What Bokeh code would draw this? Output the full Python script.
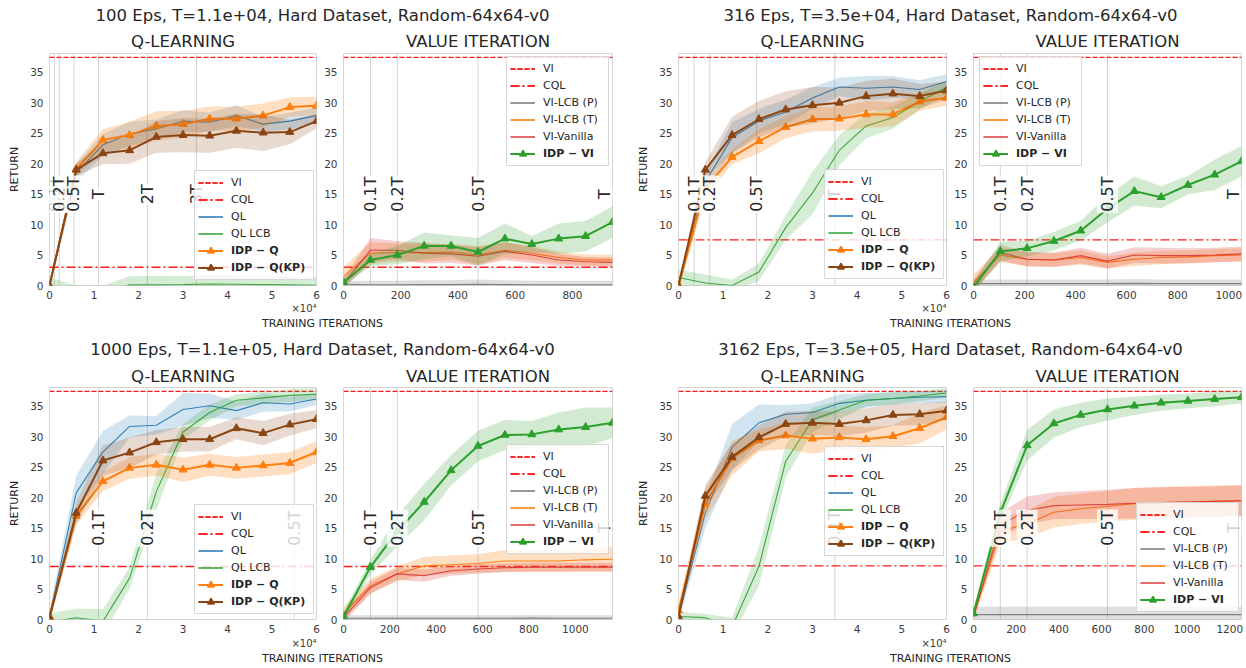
import math
from bokeh.plotting import figure
from bokeh.models import Range1d, Label, Span, Legend, LegendItem, FixedTicker
from bokeh.layouts import row, column
from bokeh.embed import file_html
from bokeh.resources import INLINE

FONT = "DejaVu Sans"

# ---------------- data ----------------
YMAX = 38.1
VI_OPT = 37.45
y_ticks = [0, 5, 10, 15, 20, 25, 30, 35]
q_x = [0, 6000, 12000, 18000, 24000, 30000, 36000, 42000, 48000, 54000, 60000]
q_ticks = [0, 10000, 20000, 30000, 40000, 50000, 60000]
q_tick_labels = ["0", "1", "2", "3", "4", "5", "6"]
vi_ticks = [0, 200, 400, 600, 800, 1000, 1200]
t_mults = [0.1, 0.2, 0.5, 1, 2, 3]
t_names = ["0.1T", "0.2T", "0.5T", "T", "2T", "3T"]

titles = ["100 Eps, T=1.1e+04, Hard Dataset, Random-64x64-v0",
          "316 Eps, T=3.5e+04, Hard Dataset, Random-64x64-v0",
          "1000 Eps, T=1.1e+05, Hard Dataset, Random-64x64-v0",
          "3162 Eps, T=3.5e+05, Hard Dataset, Random-64x64-v0"]
T_q = [1.1e4, 3.5e4, 1.1e5, 3.5e5]
cql_vals = [3.0, 7.5, 8.7, 8.8]

# 100 Eps
ql_100 = [0.0, 18.5, 23.1, 24.9, 25.7, 27.0, 26.8, 27.9, 26.5, 27.0, 27.9]
ql_100_sd = [0.6, 1.5, 1.8, 2.0, 1.6, 1.8, 1.6, 1.7, 1.2, 1.4, 1.3]
qlcb_100 = [0.0, -1.4, -1.5, 0.1, 0.1, 0.15, 0.25, 0.2, 0.15, 0.1, 0.05]
qlcb_100_sd = [1.3, 1.4, 1.5, 1.4, 1.5, 1.4, 1.4, 1.4, 1.4, 1.4, 1.4]
idpq_100 = [0.0, 19.1, 23.9, 24.7, 26.2, 26.5, 27.4, 27.4, 27.9, 29.3, 29.5]
idpq_100_sd = [0.5, 1.2, 1.8, 2.2, 2.4, 2.2, 2.0, 2.0, 2.0, 1.6, 1.5]
idpqkp_100 = [0.0, 19.0, 21.7, 22.2, 24.4, 24.7, 24.6, 25.4, 25.1, 25.2, 27.0]
idpqkp_100_sd = [0.5, 1.0, 1.8, 2.2, 2.6, 2.8, 2.8, 2.8, 3.0, 2.0, 1.2]
vi_x_100 = [0, 94, 188, 282, 376, 470, 564, 658, 752, 846, 940]
idpvi_100 = [0.5, 4.2, 5.0, 6.5, 6.5, 5.5, 7.7, 6.8, 7.7, 8.1, 10.4]
idpvi_100_sd = [0.7, 1.0, 1.5, 2.2, 1.7, 2.3, 2.5, 1.3, 2.5, 2.5, 2.6]
vivan_100 = [0.3, 5.8, 5.8, 5.3, 5.2, 4.8, 5.6, 5.0, 4.2, 3.9, 3.8]
vivan_100_sd = [0.8, 2.0, 1.5, 1.7, 1.5, 1.5, 1.5, 1.3, 1.0, 0.8, 0.8]
vilcbt_100 = [1.5, 5.3, 5.4, 5.4, 5.5, 5.0, 5.8, 5.3, 4.6, 4.2, 4.2]
vilcbt_100_sd = [1.5, 1.8, 1.5, 1.5, 1.3, 1.5, 1.3, 1.2, 1.0, 0.9, 0.9]
vilcbp_100 = [0.2, 0.1, 0.1, 0.15, 0.15, 0.2, 0.15, 0.1, 0.1, 0.1, 0.1]
vilcbp_100_sd = [0.6, 0.7, 0.7, 0.7, 0.7, 0.8, 0.7, 0.7, 0.7, 0.7, 0.7]

# 316 Eps
ql_316 = [0.0, 17.0, 24.3, 27.0, 28.5, 30.8, 32.6, 32.4, 32.6, 32.2, 33.5]
ql_316_sd = [0.5, 1.5, 2.5, 2.0, 2.0, 1.8, 1.5, 2.0, 1.8, 1.5, 1.2]
qlcb_316 = [1.3, 0.4, 0.0, 2.2, 9.5, 15.2, 22.2, 26.2, 27.6, 30.2, 32.5]
qlcb_316_sd = [1.3, 1.4, 1.0, 1.4, 2.0, 3.5, 2.5, 2.0, 1.8, 1.3, 1.2]
idpq_316 = [0.0, 16.0, 21.1, 23.7, 26.0, 27.3, 27.4, 28.1, 28.1, 30.2, 30.8]
idpq_316_sd = [0.8, 1.5, 1.2, 2.0, 1.8, 2.0, 2.0, 2.2, 2.0, 1.5, 1.3]
idpqkp_316 = [0.0, 19.0, 24.7, 27.3, 28.9, 29.6, 30.0, 31.1, 31.5, 31.1, 32.0]
idpqkp_316_sd = [0.8, 1.3, 3.0, 3.0, 3.0, 3.0, 2.5, 2.5, 2.5, 2.0, 1.5]
vi_x_316 = [0, 105, 210, 315, 420, 525, 630, 735, 840, 945, 1050]
idpvi_316 = [-0.3, 5.6, 6.1, 7.3, 9.0, 12.6, 15.5, 14.5, 16.5, 18.2, 20.4]
idpvi_316_sd = [0.8, 1.6, 1.3, 1.5, 1.6, 2.2, 2.4, 1.8, 1.5, 2.5, 2.5]
vivan_316 = [0.0, 5.4, 4.3, 4.2, 4.9, 4.0, 5.0, 4.9, 4.9, 5.0, 5.2]
vivan_316_sd = [1.0, 1.3, 1.2, 1.2, 1.3, 1.2, 1.3, 1.3, 1.2, 1.2, 1.2]
vilcbt_316 = [0.5, 5.0, 4.3, 4.2, 4.6, 3.8, 4.3, 4.6, 4.7, 4.9, 5.0]
vilcbt_316_sd = [1.3, 1.2, 1.1, 1.1, 1.2, 1.0, 1.1, 1.1, 1.1, 1.1, 1.1]
vilcbp_316 = [0.3, 0.3, 0.3, 0.3, 0.3, 0.3, 0.35, 0.3, 0.3, 0.3, 0.3]
vilcbp_316_sd = [0.7, 0.7, 0.7, 0.7, 0.7, 0.7, 0.7, 0.7, 0.7, 0.7, 0.7]

# 1000 Eps
ql_1000 = [0.5, 20.8, 27.5, 31.7, 31.9, 34.5, 35.1, 34.3, 35.6, 35.4, 36.2]
ql_1000_sd = [0.8, 2.8, 3.5, 1.8, 1.5, 2.7, 2.0, 1.5, 1.5, 1.2, 1.0]
qlcb_1000 = [-0.5, 0.3, -0.3, 6.8, 21.0, 30.8, 34.0, 36.0, 36.4, 36.8, 37.0]
qlcb_1000_sd = [1.5, 1.5, 2.0, 1.8, 3.0, 1.3, 1.3, 1.0, 1.0, 1.0, 1.0]
idpq_1000 = [0.5, 17.0, 22.7, 24.9, 25.4, 24.6, 25.4, 24.9, 25.3, 25.7, 27.5]
idpq_1000_sd = [0.8, 1.5, 1.6, 1.8, 1.8, 2.0, 1.8, 1.8, 1.8, 1.8, 1.8]
idpqkp_1000 = [0.3, 17.5, 26.1, 27.4, 29.1, 29.6, 29.6, 31.4, 30.6, 32.0, 32.9]
idpqkp_1000_sd = [0.8, 1.8, 2.5, 2.5, 2.0, 2.0, 2.0, 1.8, 2.0, 1.8, 1.5]
vi_x_1000 = [0, 116, 232, 348, 464, 580, 696, 812, 928, 1044, 1160]
idpvi_1000 = [0.5, 8.6, 14.5, 19.3, 24.5, 28.5, 30.3, 30.4, 31.2, 31.6, 32.3]
idpvi_1000_sd = [0.8, 1.2, 2.5, 3.0, 2.5, 2.5, 2.5, 2.2, 2.8, 3.2, 2.5]
vivan_1000 = [0.3, 5.2, 7.5, 7.2, 8.0, 8.3, 8.5, 8.6, 8.6, 8.6, 8.6]
vivan_1000_sd = [0.8, 1.0, 1.0, 1.0, 0.8, 0.8, 0.7, 0.7, 0.7, 0.7, 0.7]
vilcbt_1000 = [1.0, 5.5, 7.5, 8.8, 9.0, 9.2, 9.6, 9.6, 9.6, 9.8, 9.9]
vilcbt_1000_sd = [1.0, 1.2, 1.2, 1.5, 1.5, 1.5, 1.8, 1.8, 1.8, 1.9, 2.0]
vilcbp_1000 = [0.2, 0.2, 0.2, 0.2, 0.2, 0.2, 0.2, 0.25, 0.2, 0.2, 0.2]
vilcbp_1000_sd = [0.5, 0.5, 0.5, 0.5, 0.5, 0.5, 0.5, 0.5, 0.5, 0.5, 0.5]

# 3162 Eps
ql_3162 = [0.5, 17.5, 28.3, 32.3, 33.7, 34.0, 35.5, 36.0, 36.3, 36.5, 36.6]
ql_3162_sd = [0.8, 2.5, 3.8, 3.0, 1.5, 1.5, 1.5, 1.2, 1.0, 1.0, 1.0]
qlcb_3162 = [0.5, 0.3, -1.2, 8.7, 26.0, 32.8, 34.4, 36.0, 36.3, 36.7, 37.2]
qlcb_3162_sd = [0.8, 0.6, 1.5, 3.2, 2.7, 2.0, 1.5, 1.0, 1.0, 0.8, 0.8]
idpq_3162 = [1.5, 19.0, 26.5, 29.4, 30.2, 29.7, 29.9, 29.6, 30.1, 31.4, 33.2]
idpq_3162_sd = [1.0, 2.5, 2.8, 1.8, 2.2, 2.5, 2.0, 2.0, 1.8, 2.5, 2.0]
idpqkp_3162 = [0.5, 20.3, 26.7, 29.9, 32.1, 32.3, 32.1, 32.7, 33.6, 33.7, 34.3]
idpqkp_3162_sd = [0.8, 1.8, 2.2, 2.0, 2.0, 2.0, 2.0, 2.0, 1.8, 1.8, 1.5]
vi_x_3162 = [0, 125.5, 251, 376.5, 502, 627.5, 753, 878.5, 1004, 1129.5, 1255]
idpvi_3162 = [1.0, 17.5, 28.6, 32.2, 33.6, 34.5, 35.1, 35.6, 35.9, 36.2, 36.5]
idpvi_3162_sd = [0.8, 1.5, 2.5, 2.3, 2.0, 1.8, 1.5, 1.3, 1.2, 1.2, 1.0]
vivan_3162 = [0.5, 15.5, 17.9, 18.7, 18.8, 18.9, 19.1, 19.2, 19.3, 19.4, 19.5]
vivan_3162_sd = [0.6, 2.0, 2.3, 2.2, 2.3, 2.4, 2.5, 2.5, 2.5, 2.5, 2.5]
vilcbt_3162 = [0.5, 14.5, 15.7, 17.6, 18.2, 18.6, 19.0, 19.2, 19.3, 19.4, 19.5]
vilcbt_3162_sd = [0.6, 2.0, 2.3, 2.5, 2.5, 2.5, 2.6, 2.6, 2.6, 2.6, 2.6]
vilcbp_3162 = [0.8, 0.8, 0.8, 0.8, 0.8, 0.8, 0.8, 0.8, 0.8, 0.8, 0.8]
vilcbp_3162_sd = [1.3, 1.3, 1.3, 1.3, 1.3, 1.3, 1.3, 1.3, 1.3, 1.3, 1.3]

# ---------------- style ----------------
BLUE, GREEN, ORANGE, BROWN = "#1f77b4", "#2ca02c", "#ff7f0e", "#8B4513"
RED, VRED, GRAY = "#ff1a1a", "#d62728", "#7f7f7f"
TXT = "#262626"
FH, BT, BB = 232, 1, 17
QMAX = 60000


def base_fig(fw, bl, br, xmax):
    p = figure(frame_width=fw, frame_height=FH, min_border_left=bl, min_border_right=br,
               min_border_top=BT, min_border_bottom=BB,
               x_range=Range1d(0, xmax), y_range=Range1d(0, YMAX),
               output_backend="svg", toolbar_location=None)
    p.grid.visible = False
    p.outline_line_color = "#d6d6d6"
    p.outline_line_width = 1
    for ax in p.axis:
        ax.axis_line_color = None
        ax.major_tick_line_color = None
        ax.minor_tick_line_color = None
        ax.major_tick_out = 0
        ax.major_tick_in = 0
        ax.minor_tick_out = 0
        ax.minor_tick_in = 0
        ax.major_label_text_font = FONT
        ax.major_label_text_font_size = "10.5px"
        ax.major_label_text_color = "#3a3a3a"
    p.xaxis.major_label_standoff = 5
    p.yaxis.major_label_standoff = 6
    p.yaxis.ticker = FixedTicker(ticks=y_ticks)
    return p


def band(p, x, m, s, color, alpha):
    lo = [a - b for a, b in zip(m, s)]
    hi = [a + b for a, b in zip(m, s)]
    p.varea(x=x, y1=lo, y2=hi, fill_color=color, fill_alpha=alpha)


def t_marks(p, T, mults, names, xmax):
    out = []
    for m, nm in zip(mults, names):
        xv = m * T
        if xv <= xmax * 1.0001:
            p.add_layout(Span(location=xv, dimension="height", line_color="#d4d4d4",
                              line_width=1, level="underlay"))
            out.append((xv, nm))
    return out


def t_labels(p, marks, xmax, fw):
    for xv, nm in marks:
        at_edge = xv >= xmax * 0.999
        xpos = xv - 8 * xmax / fw if at_edge else xv
        p.add_layout(Label(x=xpos, y=15, text=nm, angle=math.pi / 2, text_align="center",
                           text_baseline="middle", text_font=FONT, text_font_size="16px",
                           text_color=TXT, background_fill_color="white",
                           background_fill_alpha=0.8, padding=1,
                           level="overlay" if at_edge else "annotation"))


def legends(p, normal, bold, loc, label_w):
    common = dict(location=loc, orientation="vertical", padding=3, spacing=0, margin=0,
                  glyph_width=25, glyph_height=17, label_height=17, label_standoff=8,
                  label_width=label_w, label_text_font=FONT, label_text_font_size="11px",
                  label_text_color=TXT, border_line_color="#cccccc", border_line_width=1)
    items_a = [LegendItem(label=t, renderers=r) for t, r in normal] + \
              [LegendItem(label=" ", renderers=r) for t, r in bold]
    items_b = [LegendItem(label=" ", renderers=r) for t, r in normal] + \
              [LegendItem(label=t, renderers=r) for t, r in bold]
    la = Legend(items=items_a, background_fill_color="white", background_fill_alpha=0.8, **common)
    lb = Legend(items=items_b, background_fill_alpha=0.0, label_text_font_style="bold", **common)
    p.add_layout(la)
    p.add_layout(lb)


def ql_panel(T, cql, ql, ql_sd, qlcb, qlcb_sd, idpq, idpq_sd, kp, kp_sd, bl, fw, br, loc):
    p = base_fig(fw, bl, br, QMAX)
    p.xaxis.ticker = FixedTicker(ticks=q_ticks)
    p.xaxis.major_label_overrides = {t: s for t, s in zip(q_ticks, q_tick_labels)}
    p.yaxis.axis_label = "RETURN"
    p.yaxis.axis_label_text_font = FONT
    p.yaxis.axis_label_text_font_size = "11px"
    p.yaxis.axis_label_text_font_style = "normal"
    p.yaxis.axis_label_text_color = TXT
    p.yaxis.axis_label_standoff = 6
    marks = t_marks(p, T, t_mults, t_names, QMAX)
    r_vi = p.line([0, QMAX], [VI_OPT, VI_OPT], line_color=RED, line_width=1.3, line_dash="5 2")
    r_cql = p.line([0, QMAX], [cql, cql], line_color=RED, line_width=1.3, line_dash="9 3 2 3")
    band(p, q_x, ql, ql_sd, BLUE, 0.2)
    r_ql = p.line(q_x, ql, line_color=BLUE, line_width=1.1, line_alpha=0.9)
    band(p, q_x, qlcb, qlcb_sd, GREEN, 0.2)
    r_lcb = p.line(q_x, qlcb, line_color=GREEN, line_width=1.1, line_alpha=0.9)
    band(p, q_x, idpq, idpq_sd, ORANGE, 0.25)
    r_q = p.line(q_x, idpq, line_color=ORANGE, line_width=2)
    s_q = p.scatter(q_x, idpq, marker="triangle", size=8, color=ORANGE)
    band(p, q_x, kp, kp_sd, BROWN, 0.2)
    r_kp = p.line(q_x, kp, line_color=BROWN, line_width=2)
    s_kp = p.scatter(q_x, kp, marker="triangle", size=8, color=BROWN)
    t_labels(p, marks, QMAX, fw)
    legends(p, [("VI", [r_vi]), ("CQL", [r_cql]), ("QL", [r_ql]), ("QL LCB", [r_lcb])],
            [("IDP − Q", [r_q, s_q]), ("IDP − Q(KP)", [r_kp, s_kp])], loc, 79)
    return p


def vi_panel(Tv, vx, cql, lp, lp_sd, lt, lt_sd, van, van_sd, idp, idp_sd, bl, fw, br, loc):
    p = base_fig(fw, bl, br, Tv)
    p.xaxis.ticker = FixedTicker(ticks=[t for t in vi_ticks if t <= Tv])
    marks = t_marks(p, Tv, t_mults[:4], t_names[:4], Tv)
    r_vi = p.line([0, Tv], [VI_OPT, VI_OPT], line_color=RED, line_width=1.3, line_dash="5 2")
    r_cql = p.line([0, Tv], [cql, cql], line_color=RED, line_width=1.3, line_dash="9 3 2 3")
    band(p, vx, lp, lp_sd, GRAY, 0.25)
    r_lp = p.line(vx, lp, line_color=GRAY, line_width=1.1)
    band(p, vx, lt, lt_sd, ORANGE, 0.25)
    r_lt = p.line(vx, lt, line_color=ORANGE, line_width=1.1)
    band(p, vx, van, van_sd, VRED, 0.22)
    r_van = p.line(vx, van, line_color=VRED, line_width=1.1, line_alpha=0.8)
    band(p, vx, idp, idp_sd, GREEN, 0.22)
    r_idp = p.line(vx, idp, line_color=GREEN, line_width=2)
    s_idp = p.scatter(vx, idp, marker="triangle", size=8, color=GREEN)
    t_labels(p, marks, Tv, fw)
    legends(p, [("VI", [r_vi]), ("CQL", [r_cql]), ("VI-LCB (P)", [r_lp]),
                ("VI-LCB (T)", [r_lt]), ("VI-Vanilla", [r_van])],
            [("IDP − VI", [r_idp, s_idp])], loc, 62)
    return p


def strip(h, labels):
    p = figure(frame_width=1246, frame_height=h, min_border=0, x_range=Range1d(0, 1246),
               y_range=Range1d(0, h), output_backend="svg", toolbar_location=None,
               x_axis_location=None, y_axis_location=None)
    p.grid.visible = False
    p.outline_line_color = None
    for x, y, t, size, align in labels:
        p.add_layout(Label(x=x, y=y, text=t, text_align=align, text_baseline="middle",
                           text_font=FONT, text_font_size=size,
                           text_color="#3a3a3a" if t.startswith("×") else TXT))
    return p


f1 = ql_panel(T_q[0], cql_vals[0], ql_100, ql_100_sd, qlcb_100, qlcb_100_sd, idpq_100, idpq_100_sd,
              idpqkp_100, idpqkp_100_sd, 49, 267, 4, (145, 5))
f2 = vi_panel(vi_x_100[-1], vi_x_100, cql_vals[0], vilcbp_100, vilcbp_100_sd, vilcbt_100, vilcbt_100_sd,
              vivan_100, vivan_100_sd, idpvi_100, idpvi_100_sd, 23, 269, 13, (163, 119))
f3 = ql_panel(T_q[1], cql_vals[1], ql_316, ql_316_sd, qlcb_316, qlcb_316_sd, idpq_316, idpq_316_sd,
              idpqkp_316, idpqkp_316_sd, 53, 268, 4, (146, 6))
f4 = vi_panel(vi_x_316[-1], vi_x_316, cql_vals[1], vilcbp_316, vilcbp_316_sd, vilcbt_316, vilcbt_316_sd,
              vivan_316, vivan_316_sd, idpvi_316, idpvi_316_sd, 23, 268, 5, (6, 119))
f5 = ql_panel(T_q[2], cql_vals[2], ql_1000, ql_1000_sd, qlcb_1000, qlcb_1000_sd, idpq_1000, idpq_1000_sd,
              idpqkp_1000, idpqkp_1000_sd, 49, 267, 4, (145, 5))
f6 = vi_panel(vi_x_1000[-1], vi_x_1000, cql_vals[2], vilcbp_1000, vilcbp_1000_sd, vilcbt_1000, vilcbt_1000_sd,
              vivan_1000, vivan_1000_sd, idpvi_1000, idpvi_1000_sd, 23, 269, 13, (163, 65))
f7 = ql_panel(T_q[3], cql_vals[3], ql_3162, ql_3162_sd, qlcb_3162, qlcb_3162_sd, idpq_3162, idpq_3162_sd,
              idpqkp_3162, idpqkp_3162_sd, 53, 268, 4, (146, 63))
f8 = vi_panel(vi_x_3162[-1], vi_x_3162, cql_vals[3], vilcbp_3162, vilcbp_3162_sd, vilcbt_3162, vilcbt_3162_sd,
              vivan_3162, vivan_3162_sd, idpvi_3162, idpvi_3162_sd, 23, 268, 5, (163, 7))

TS = "16.5px"
C = "center"
s_top = strip(52, [(322, 37, titles[0], TS, C), (950, 37, titles[1], TS, C),
                   (182.5, 11, "Q-LEARNING", TS, C), (477.5, 11, "VALUE ITERATION", TS, C),
                   (812, 11, "Q-LEARNING", TS, C), (1107, 11, "VALUE ITERATION", TS, C)])
s_mid = strip(84, [(316, 78.3, "×10⁴", "10px", "right"), (946, 78.3, "×10⁴", "10px", "right"),
                   (322, 63, "TRAINING ITERATIONS", "11px", C), (950, 63, "TRAINING ITERATIONS", "11px", C),
                   (322, 37, titles[2], TS, C), (950, 37, titles[3], TS, C),
                   (182.5, 9.8, "Q-LEARNING", TS, C), (477.5, 9.8, "VALUE ITERATION", TS, C),
                   (812, 9.8, "Q-LEARNING", TS, C), (1107, 9.8, "VALUE ITERATION", TS, C)])
s_bot = strip(32, [(316, 25, "×10⁴", "10px", "right"), (946, 25, "×10⁴", "10px", "right"),
                   (322, 10, "TRAINING ITERATIONS", "11px", C), (950, 10, "TRAINING ITERATIONS", "11px", C)])

layout = column(s_top, row(f1, f2, f3, f4), s_mid, row(f5, f6, f7, f8), s_bot)
open("out.html", "w").write(file_html(layout, INLINE))
